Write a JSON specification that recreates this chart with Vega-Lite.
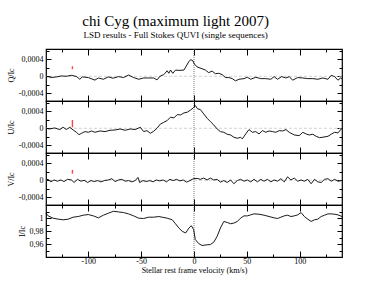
{
"$schema": "https://vega.github.io/schema/vega-lite/v6.json",
"padding": {"left": 6, "top": 13, "right": 5, "bottom": 5},
"spacing": 0,
"bounds": "flush",
"title": {"text": "chi Cyg (maximum light 2007)", "subtitle": "LSD results - Full Stokes QUVI (single sequences)", "anchor": "middle"},
"datasets": {
"q": [{"x":-140,"y":-0.15e-4},{"x":-138,"y":-0.08e-4},{"x":-135,"y":-0.3e-4},{"x":-130,"y":-0.15e-4},{"x":-125.4,"y":0.08e-4},{"x":-120.7,"y":0},{"x":-115.9,"y":0.23e-4},{"x":-111,"y":-0.08e-4},{"x":-108,"y":-0.7e-4},{"x":-105.7,"y":-0.15e-4},{"x":-100,"y":-0.3e-4},{"x":-93.7,"y":-0.9e-4},{"x":-90.5,"y":-0.4e-4},{"x":-85.7,"y":-0.7e-4},{"x":-81,"y":-0.15e-4},{"x":-76.5,"y":-0.45e-4},{"x":-71.4,"y":-0.08e-4},{"x":-66.7,"y":-0.3e-4},{"x":-61.9,"y":0.3e-4},{"x":-57.1,"y":-0.3e-4},{"x":-52.4,"y":-0.7e-4},{"x":-47.6,"y":-0.4e-4},{"x":-42.9,"y":-0.4e-4},{"x":-38.1,"y":-0.4e-4},{"x":-35,"y":-0.85e-4},{"x":-31.8,"y":0.08e-4},{"x":-28.6,"y":0.38e-4},{"x":-25.4,"y":1.3e-4},{"x":-23.8,"y":0.7e-4},{"x":-22.2,"y":1.46e-4},{"x":-20,"y":0.7e-4},{"x":-17.5,"y":1.46e-4},{"x":-14.3,"y":1.38e-4},{"x":-9.5,"y":1.46e-4},{"x":-7.3,"y":2.4e-4},{"x":-4.8,"y":3.5e-4},{"x":-2.9,"y":3.9e-4},{"x":-1,"y":3.6e-4},{"x":0.3,"y":2.9e-4},{"x":2.9,"y":2.2e-4},{"x":7.6,"y":1.77e-4},{"x":10.8,"y":1.46e-4},{"x":13.9,"y":0.85e-4},{"x":17.1,"y":1.23e-4},{"x":20.3,"y":0.6e-4},{"x":23.4,"y":0.7e-4},{"x":26.7,"y":0.38e-4},{"x":29.8,"y":-0.3e-4},{"x":33,"y":-0.3e-4},{"x":36.2,"y":-0.55e-4},{"x":39.3,"y":-1.08e-4},{"x":42.5,"y":-0.7e-4},{"x":47.3,"y":-0.55e-4},{"x":50.5,"y":-0.23e-4},{"x":53.6,"y":-0.7e-4},{"x":58.4,"y":-0.23e-4},{"x":63.1,"y":-0.55e-4},{"x":67.9,"y":-0.55e-4},{"x":72.7,"y":-0.7e-4},{"x":75.8,"y":-0.08e-4},{"x":79,"y":-0.7e-4},{"x":82.9,"y":-0.08e-4},{"x":87,"y":-0.4e-4},{"x":90.1,"y":-0.08e-4},{"x":93.3,"y":-0.92e-4},{"x":98.1,"y":-0.3e-4},{"x":102.9,"y":-0.4e-4},{"x":107.6,"y":-0.55e-4},{"x":112.4,"y":-0.55e-4},{"x":117.1,"y":-0.7e-4},{"x":121.9,"y":-0.4e-4},{"x":126.7,"y":-0.7e-4},{"x":129.8,"y":0.23e-4},{"x":133,"y":-0.08e-4},{"x":136.2,"y":-0.92e-4},{"x":138.7,"y":-0.4e-4},{"x":140,"y":-0.55e-4}],
"u": [{"x":-140,"y":0},{"x":-136.5,"y":-0.16e-4},{"x":-131.8,"y":0.08e-4},{"x":-127,"y":-0.3e-4},{"x":-123.8,"y":0.24e-4},{"x":-120.7,"y":-0.3e-4},{"x":-117.5,"y":0.24e-4},{"x":-114.3,"y":-0.4e-4},{"x":-111.1,"y":-0.94e-4},{"x":-108.9,"y":-1.5e-4},{"x":-106.4,"y":-1.18e-4},{"x":-103.2,"y":-0.78e-4},{"x":-100,"y":-0.94e-4},{"x":-96.9,"y":-0.63e-4},{"x":-93.7,"y":-0.94e-4},{"x":-88.9,"y":-0.63e-4},{"x":-84.2,"y":-0.78e-4},{"x":-79.4,"y":-0.47e-4},{"x":-74.6,"y":-0.4e-4},{"x":-69.9,"y":-0.16e-4},{"x":-65.1,"y":-0.47e-4},{"x":-60.3,"y":-0.16e-4},{"x":-55.6,"y":-0.3e-4},{"x":-50.8,"y":0.24e-4},{"x":-47.6,"y":-0.78e-4},{"x":-44.5,"y":-0.55e-4},{"x":-41.3,"y":-1.18e-4},{"x":-38.1,"y":-0.7e-4},{"x":-35,"y":0},{"x":-31.8,"y":1.0e-4},{"x":-28.6,"y":1.4e-4},{"x":-25.4,"y":1.8e-4},{"x":-22.3,"y":2.6e-4},{"x":-19,"y":2.43e-4},{"x":-15.9,"y":3.2e-4},{"x":-12.7,"y":3.14e-4},{"x":-9.5,"y":3.6e-4},{"x":-6.4,"y":3.76e-4},{"x":-3.2,"y":4.3e-4},{"x":-1,"y":4.7e-4},{"x":1.2,"y":5.33e-4},{"x":3.4,"y":4.55e-4},{"x":6,"y":4.4e-4},{"x":9.2,"y":3.37e-4},{"x":12.4,"y":2.35e-4},{"x":15.5,"y":1.57e-4},{"x":18.7,"y":0.78e-4},{"x":21.9,"y":-0.16e-4},{"x":25,"y":-0.78e-4},{"x":28.2,"y":-0.94e-4},{"x":31.4,"y":-1.4e-4},{"x":34.6,"y":-1.57e-4},{"x":37.7,"y":-2.1e-4},{"x":41,"y":-2.35e-4},{"x":44.1,"y":-2.1e-4},{"x":45.7,"y":-2.5e-4},{"x":48.9,"y":-1.33e-4},{"x":52,"y":-0.3e-4},{"x":55.2,"y":-0.94e-4},{"x":58.4,"y":-0.78e-4},{"x":61.5,"y":-1.33e-4},{"x":64.8,"y":-0.55e-4},{"x":67.9,"y":-0.94e-4},{"x":71,"y":-0.63e-4},{"x":74.3,"y":-0.78e-4},{"x":77.4,"y":-0.94e-4},{"x":80.6,"y":-0.55e-4},{"x":83.8,"y":-0.63e-4},{"x":87,"y":-0.3e-4},{"x":90.1,"y":-0.94e-4},{"x":94.9,"y":-1.57e-4},{"x":99.6,"y":-1.73e-4},{"x":102.9,"y":-0.94e-4},{"x":106,"y":-1.33e-4},{"x":109.1,"y":-1.57e-4},{"x":112.4,"y":-1.4e-4},{"x":115.5,"y":-1.88e-4},{"x":118.7,"y":-2.2e-4},{"x":121.9,"y":-2.1e-4},{"x":126.7,"y":-1.88e-4},{"x":129.8,"y":-1.4e-4},{"x":133,"y":-0.94e-4},{"x":136.2,"y":-1.1e-4},{"x":139.3,"y":-0.16e-4},{"x":140,"y":0}],
"v": [{"x":-140,"y":0.07e-4},{"x":-138,"y":0.22e-4},{"x":-135.5,"y":-0.37e-4},{"x":-132.3,"y":0.07e-4},{"x":-129.2,"y":-0.22e-4},{"x":-126,"y":0.07e-4},{"x":-122.9,"y":-0.3e-4},{"x":-119.7,"y":0.22e-4},{"x":-115.9,"y":0.07e-4},{"x":-113.4,"y":-0.52e-4},{"x":-110.2,"y":0.22e-4},{"x":-107,"y":-0.22e-4},{"x":-103.9,"y":0},{"x":-100.6,"y":-0.52e-4},{"x":-97.5,"y":-0.07e-4},{"x":-94.3,"y":-0.3e-4},{"x":-91.1,"y":-0.07e-4},{"x":-88,"y":-0.37e-4},{"x":-84.8,"y":-0.07e-4},{"x":-81,"y":0.07e-4},{"x":-77.8,"y":0.37e-4},{"x":-74.6,"y":-0.3e-4},{"x":-71.4,"y":0.07e-4},{"x":-68.3,"y":0.22e-4},{"x":-65.1,"y":-0.22e-4},{"x":-61.9,"y":-0.07e-4},{"x":-58.7,"y":-0.37e-4},{"x":-55.6,"y":-0.07e-4},{"x":-53,"y":0.67e-4},{"x":-51.4,"y":-0.52e-4},{"x":-48.3,"y":-0.07e-4},{"x":-45.1,"y":-0.3e-4},{"x":-41.9,"y":-0.07e-4},{"x":-38.7,"y":-0.37e-4},{"x":-35.6,"y":0.07e-4},{"x":-32.4,"y":-0.15e-4},{"x":-29.2,"y":0.07e-4},{"x":-26,"y":-0.37e-4},{"x":-22.9,"y":0.22e-4},{"x":-19.7,"y":-0.07e-4},{"x":-16.5,"y":0.22e-4},{"x":-13.3,"y":-0.15e-4},{"x":-10.2,"y":0.07e-4},{"x":-7,"y":-0.44e-4},{"x":-3.8,"y":-0.07e-4},{"x":-0.6,"y":0.37e-4},{"x":2.9,"y":0.44e-4},{"x":6,"y":0.22e-4},{"x":9.2,"y":0.52e-4},{"x":12.4,"y":0.07e-4},{"x":15.5,"y":0.52e-4},{"x":18.7,"y":0.07e-4},{"x":21.9,"y":0.22e-4},{"x":25,"y":-0.44e-4},{"x":28.2,"y":-0.07e-4},{"x":31.4,"y":-0.52e-4},{"x":34.6,"y":0.07e-4},{"x":37.7,"y":-0.81e-4},{"x":41,"y":-0.07e-4},{"x":44.1,"y":0.22e-4},{"x":47.3,"y":-0.22e-4},{"x":50.5,"y":0.07e-4},{"x":53.6,"y":-0.37e-4},{"x":56.8,"y":0.22e-4},{"x":60,"y":-0.37e-4},{"x":63.1,"y":0.22e-4},{"x":66.3,"y":-0.22e-4},{"x":69.5,"y":0.22e-4},{"x":72.7,"y":-0.37e-4},{"x":75.8,"y":0.07e-4},{"x":79,"y":-0.22e-4},{"x":82.2,"y":0.37e-4},{"x":85.4,"y":-0.37e-4},{"x":88.5,"y":0.81e-4},{"x":91.7,"y":0.07e-4},{"x":94.9,"y":0.52e-4},{"x":98.1,"y":-0.22e-4},{"x":101.3,"y":0.07e-4},{"x":104.4,"y":-0.22e-4},{"x":107.6,"y":0.22e-4},{"x":110.8,"y":-0.81e-4},{"x":114,"y":0.22e-4},{"x":117.1,"y":-0.37e-4},{"x":120.3,"y":-0.52e-4},{"x":123.5,"y":0.22e-4},{"x":126.7,"y":0.37e-4},{"x":129.8,"y":-0.22e-4},{"x":133,"y":0.22e-4},{"x":136.2,"y":-0.22e-4},{"x":140,"y":-0.07e-4}],
"i": [{"x":-140,"y":1.0075},{"x":-138,"y":1.0035},{"x":-133.3,"y":1.0},{"x":-128.5,"y":0.9985},{"x":-123.8,"y":0.9975},{"x":-119,"y":0.9985},{"x":-114.3,"y":1.0015},{"x":-109.5,"y":1.0025},{"x":-104.8,"y":1.0045},{"x":-100,"y":1.0055},{"x":-95.2,"y":1.0035},{"x":-90.5,"y":1.0005},{"x":-85.7,"y":1.0045},{"x":-81,"y":1.0075},{"x":-76.2,"y":1.0105},{"x":-71.4,"y":1.0095},{"x":-66.7,"y":1.0085},{"x":-61.9,"y":1.0065},{"x":-57.1,"y":1.0035},{"x":-52.4,"y":1.0},{"x":-47.6,"y":0.9995},{"x":-42.9,"y":1.0015},{"x":-38.1,"y":1.0015},{"x":-33.3,"y":1.0025},{"x":-30.2,"y":1.0015},{"x":-25.4,"y":1.0},{"x":-20.6,"y":0.9975},{"x":-17.5,"y":0.9915},{"x":-14.3,"y":0.985},{"x":-11.1,"y":0.98},{"x":-7.9,"y":0.9775},{"x":-4.8,"y":0.985},{"x":-2.5,"y":0.9885},{"x":-0.3,"y":0.9825},{"x":1.2,"y":0.9675},{"x":4.4,"y":0.9615},{"x":7.6,"y":0.9585},{"x":12.4,"y":0.9595},{"x":15.5,"y":0.96},{"x":18.7,"y":0.9635},{"x":21.9,"y":0.9725},{"x":25,"y":0.985},{"x":28.2,"y":0.995},{"x":31.4,"y":0.9935},{"x":34.6,"y":0.9915},{"x":37.7,"y":0.9925},{"x":41,"y":0.995},{"x":44.1,"y":1.0},{"x":47.3,"y":1.0035},{"x":50.5,"y":1.0035},{"x":53.6,"y":1.005},{"x":56.8,"y":1.0065},{"x":61.5,"y":1.006},{"x":66.3,"y":1.0045},{"x":71,"y":1.0025},{"x":75.8,"y":1.0005},{"x":79,"y":0.9995},{"x":82.2,"y":1.0015},{"x":85.4,"y":1.0035},{"x":88.5,"y":1.0045},{"x":91.7,"y":1.0025},{"x":94.9,"y":1.0035},{"x":98.1,"y":1.005},{"x":101.3,"y":1.0085},{"x":104.4,"y":1.0025},{"x":107.6,"y":0.9985},{"x":110.8,"y":0.995},{"x":114,"y":0.9975},{"x":117.1,"y":0.9985},{"x":120.3,"y":1.0025},{"x":123.5,"y":1.0045},{"x":126.7,"y":1.0065},{"x":129.8,"y":1.0065},{"x":133,"y":1.006},{"x":136.2,"y":1.005},{"x":140,"y":1.0025}],
"err": [{"s":"Q","x":-115,"lo":1.67e-4,"hi":2.35e-4},{"s":"U","x":-115,"lo":0.24e-4,"hi":1.96e-4},{"s":"V","x":-115,"lo":1.56e-4,"hi":2.44e-4}]
},
"vconcat": [
{"width": 296, "height": 52, "data": {"name": "q"},
 "resolve": {"axis": {"x": "independent", "y": "independent"}},
 "layer": [
  {"data": {"values": [{}]}, "mark": {"type": "rule", "color": "#c8c8c8", "strokeDash": [3, 2], "strokeWidth": 0.8}, "encoding": {"y": {"datum": 0, "type": "quantitative", "axis": null}}},
  {"data": {"values": [{}]}, "mark": {"type": "rule", "color": "#555555", "strokeDash": [1, 1], "strokeWidth": 0.8}, "encoding": {"x": {"datum": 0, "type": "quantitative", "axis": null}}},
  {"mark": {"type": "line", "color": "black", "strokeWidth": 0.9}, "encoding": {
    "x": {"field": "x", "type": "quantitative", "scale": {"domain": [-140, 140], "nice": false, "zero": false}, "axis": {"orient": "bottom", "values": [-100, -50, 0, 50, 100], "tickSize": -6, "labels": false, "title": null}},
    "y": {"field": "y", "type": "quantitative", "scale": {"domain": [-0.00058, 0.00064], "nice": false, "zero": false}, "axis": {"orient": "left", "values": [-0.0004, 0, 0.0004], "tickSize": -5, "labelPadding": 8, "format": ".4~f", "title": "Q/Ic"}}}},
  {"mark": {"type": "line", "strokeOpacity": 0}, "encoding": {
    "x": {"field": "x", "type": "quantitative", "axis": {"orient": "top", "values": [-100, -50, 0, 50, 100], "tickSize": -6, "labels": false, "title": null}},
    "y": {"field": "y", "type": "quantitative", "axis": {"orient": "right", "values": [-0.0004, 0, 0.0004], "tickSize": -5, "labels": false, "title": null}}}},
  {"mark": {"type": "line", "strokeOpacity": 0}, "encoding": {
    "x": {"field": "x", "type": "quantitative", "axis": {"orient": "bottom", "values": [-125, -75, -25, 25, 75, 125], "tickSize": -3, "labels": false, "title": null}},
    "y": {"field": "y", "type": "quantitative", "axis": {"orient": "left", "values": [-0.0002, 0.0002, 0.0006], "tickSize": -3, "labels": false, "title": null}}}},
  {"mark": {"type": "line", "strokeOpacity": 0}, "encoding": {
    "x": {"field": "x", "type": "quantitative", "axis": {"orient": "top", "values": [-125, -75, -25, 25, 75, 125], "tickSize": -3, "labels": false, "title": null}},
    "y": {"field": "y", "type": "quantitative", "axis": {"orient": "right", "values": [-0.0002, 0.0002, 0.0006], "tickSize": -3, "labels": false, "title": null}}}},
  {"data": {"name": "err"}, "transform": [{"filter": "datum.s === 'Q'"}], "mark": {"type": "rule", "color": "#ff4444", "strokeWidth": 1.4}, "encoding": {"x": {"field": "x", "type": "quantitative", "axis": null}, "y": {"field": "lo", "type": "quantitative", "axis": null}, "y2": {"field": "hi"}}}
 ]},
{"width": 296, "height": 52, "data": {"name": "u"},
 "resolve": {"axis": {"x": "independent", "y": "independent"}},
 "layer": [
  {"data": {"values": [{}]}, "mark": {"type": "rule", "color": "#c8c8c8", "strokeDash": [3, 2], "strokeWidth": 0.8}, "encoding": {"y": {"datum": 0, "type": "quantitative", "axis": null}}},
  {"data": {"values": [{}]}, "mark": {"type": "rule", "color": "#555555", "strokeDash": [1, 1], "strokeWidth": 0.8}, "encoding": {"x": {"datum": 0, "type": "quantitative", "axis": null}}},
  {"mark": {"type": "line", "color": "black", "strokeWidth": 0.9}, "encoding": {
    "x": {"field": "x", "type": "quantitative", "scale": {"domain": [-140, 140], "nice": false, "zero": false}, "axis": {"orient": "bottom", "values": [-100, -50, 0, 50, 100], "tickSize": -6, "labels": false, "title": null}},
    "y": {"field": "y", "type": "quantitative", "scale": {"domain": [-0.00058, 0.00064], "nice": false, "zero": false}, "axis": {"orient": "left", "values": [-0.0004, 0, 0.0004], "tickSize": -5, "labelPadding": 8, "format": ".4~f", "title": "U/Ic"}}}},
  {"mark": {"type": "line", "strokeOpacity": 0}, "encoding": {
    "x": {"field": "x", "type": "quantitative", "axis": {"orient": "top", "values": [-100, -50, 0, 50, 100], "tickSize": -6, "labels": false, "title": null}},
    "y": {"field": "y", "type": "quantitative", "axis": {"orient": "right", "values": [-0.0004, 0, 0.0004], "tickSize": -5, "labels": false, "title": null}}}},
  {"mark": {"type": "line", "strokeOpacity": 0}, "encoding": {
    "x": {"field": "x", "type": "quantitative", "axis": {"orient": "bottom", "values": [-125, -75, -25, 25, 75, 125], "tickSize": -3, "labels": false, "title": null}},
    "y": {"field": "y", "type": "quantitative", "axis": {"orient": "left", "values": [-0.0002, 0.0002, 0.0006], "tickSize": -3, "labels": false, "title": null}}}},
  {"mark": {"type": "line", "strokeOpacity": 0}, "encoding": {
    "x": {"field": "x", "type": "quantitative", "axis": {"orient": "top", "values": [-125, -75, -25, 25, 75, 125], "tickSize": -3, "labels": false, "title": null}},
    "y": {"field": "y", "type": "quantitative", "axis": {"orient": "right", "values": [-0.0002, 0.0002, 0.0006], "tickSize": -3, "labels": false, "title": null}}}},
  {"data": {"name": "err"}, "transform": [{"filter": "datum.s === 'U'"}], "mark": {"type": "rule", "color": "#ff4444", "strokeWidth": 1.4}, "encoding": {"x": {"field": "x", "type": "quantitative", "axis": null}, "y": {"field": "lo", "type": "quantitative", "axis": null}, "y2": {"field": "hi"}}}
 ]},
{"width": 296, "height": 52, "data": {"name": "v"},
 "resolve": {"axis": {"x": "independent", "y": "independent"}},
 "layer": [
  {"data": {"values": [{}]}, "mark": {"type": "rule", "color": "#c8c8c8", "strokeDash": [3, 2], "strokeWidth": 0.8}, "encoding": {"y": {"datum": 0, "type": "quantitative", "axis": null}}},
  {"data": {"values": [{}]}, "mark": {"type": "rule", "color": "#555555", "strokeDash": [1, 1], "strokeWidth": 0.8}, "encoding": {"x": {"datum": 0, "type": "quantitative", "axis": null}}},
  {"mark": {"type": "line", "color": "black", "strokeWidth": 0.9}, "encoding": {
    "x": {"field": "x", "type": "quantitative", "scale": {"domain": [-140, 140], "nice": false, "zero": false}, "axis": {"orient": "bottom", "values": [-100, -50, 0, 50, 100], "tickSize": -6, "labels": false, "title": null}},
    "y": {"field": "y", "type": "quantitative", "scale": {"domain": [-0.00058, 0.00064], "nice": false, "zero": false}, "axis": {"orient": "left", "values": [-0.0004, 0, 0.0004], "tickSize": -5, "labelPadding": 8, "format": ".4~f", "title": "V/Ic"}}}},
  {"mark": {"type": "line", "strokeOpacity": 0}, "encoding": {
    "x": {"field": "x", "type": "quantitative", "axis": {"orient": "top", "values": [-100, -50, 0, 50, 100], "tickSize": -6, "labels": false, "title": null}},
    "y": {"field": "y", "type": "quantitative", "axis": {"orient": "right", "values": [-0.0004, 0, 0.0004], "tickSize": -5, "labels": false, "title": null}}}},
  {"mark": {"type": "line", "strokeOpacity": 0}, "encoding": {
    "x": {"field": "x", "type": "quantitative", "axis": {"orient": "bottom", "values": [-125, -75, -25, 25, 75, 125], "tickSize": -3, "labels": false, "title": null}},
    "y": {"field": "y", "type": "quantitative", "axis": {"orient": "left", "values": [-0.0002, 0.0002, 0.0006], "tickSize": -3, "labels": false, "title": null}}}},
  {"mark": {"type": "line", "strokeOpacity": 0}, "encoding": {
    "x": {"field": "x", "type": "quantitative", "axis": {"orient": "top", "values": [-125, -75, -25, 25, 75, 125], "tickSize": -3, "labels": false, "title": null}},
    "y": {"field": "y", "type": "quantitative", "axis": {"orient": "right", "values": [-0.0002, 0.0002, 0.0006], "tickSize": -3, "labels": false, "title": null}}}},
  {"data": {"name": "err"}, "transform": [{"filter": "datum.s === 'V'"}], "mark": {"type": "rule", "color": "#ff4444", "strokeWidth": 1.4}, "encoding": {"x": {"field": "x", "type": "quantitative", "axis": null}, "y": {"field": "lo", "type": "quantitative", "axis": null}, "y2": {"field": "hi"}}}
 ]},
{"width": 296, "height": 52, "data": {"name": "i"},
 "resolve": {"axis": {"x": "independent", "y": "independent"}},
 "layer": [
  {"data": {"values": [{}]}, "mark": {"type": "rule", "color": "#555555", "strokeDash": [1, 1], "strokeWidth": 0.8}, "encoding": {"x": {"datum": 0, "type": "quantitative", "axis": null}}},
  {"mark": {"type": "line", "color": "black", "strokeWidth": 0.9}, "encoding": {
    "x": {"field": "x", "type": "quantitative", "scale": {"domain": [-140, 140], "nice": false, "zero": false}, "axis": {"orient": "bottom", "values": [-100, -50, 0, 50, 100], "tickSize": -6, "labelPadding": 6, "title": "Stellar rest frame velocity (km/s)", "titlePadding": 1}},
    "y": {"field": "y", "type": "quantitative", "scale": {"domain": [0.941, 1.02], "nice": false, "zero": false}, "axis": {"orient": "left", "values": [0.96, 0.98, 1], "tickSize": -5, "labelPadding": 8, "format": ".2~f", "title": "I/Ic"}}}},
  {"mark": {"type": "line", "strokeOpacity": 0}, "encoding": {
    "x": {"field": "x", "type": "quantitative", "axis": {"orient": "top", "values": [-100, -50, 0, 50, 100], "tickSize": -6, "labels": false, "title": null}},
    "y": {"field": "y", "type": "quantitative", "axis": {"orient": "right", "values": [0.96, 0.98, 1], "tickSize": -5, "labels": false, "title": null}}}},
  {"mark": {"type": "line", "strokeOpacity": 0}, "encoding": {
    "x": {"field": "x", "type": "quantitative", "axis": {"orient": "bottom", "values": [-125, -75, -25, 25, 75, 125], "tickSize": -3, "labels": false, "title": null}},
    "y": {"field": "y", "type": "quantitative", "axis": {"orient": "left", "values": [0.95, 0.97, 0.99, 1.01], "tickSize": -3, "labels": false, "title": null}}}},
  {"mark": {"type": "line", "strokeOpacity": 0}, "encoding": {
    "x": {"field": "x", "type": "quantitative", "axis": {"orient": "top", "values": [-125, -75, -25, 25, 75, 125], "tickSize": -3, "labels": false, "title": null}},
    "y": {"field": "y", "type": "quantitative", "axis": {"orient": "right", "values": [0.95, 0.97, 0.99, 1.01], "tickSize": -3, "labels": false, "title": null}}}}
 ]}
],
"config": {
 "view": {"stroke": "black", "strokeWidth": 1.2},
 "font": "Liberation Serif",
 "title": {"font": "Liberation Serif", "fontSize": 15, "fontWeight": "normal", "color": "black", "subtitleFont": "Liberation Serif", "subtitleFontSize": 9, "subtitleColor": "black", "subtitlePadding": 2, "offset": 8},
 "axis": {"domain": false, "grid": false, "tickColor": "black", "tickWidth": 1, "labelColor": "black", "titleColor": "black", "labelFont": "Liberation Serif", "titleFont": "Liberation Serif", "labelFontSize": 8, "titleFontSize": 8, "titleFontWeight": "normal", "labelPadding": 3, "titlePadding": 3},
 "locale": {"number": {"decimal": ",", "thousands": ".", "grouping": [3], "currency": ["", ""], "minus": "-"}}
}
}
